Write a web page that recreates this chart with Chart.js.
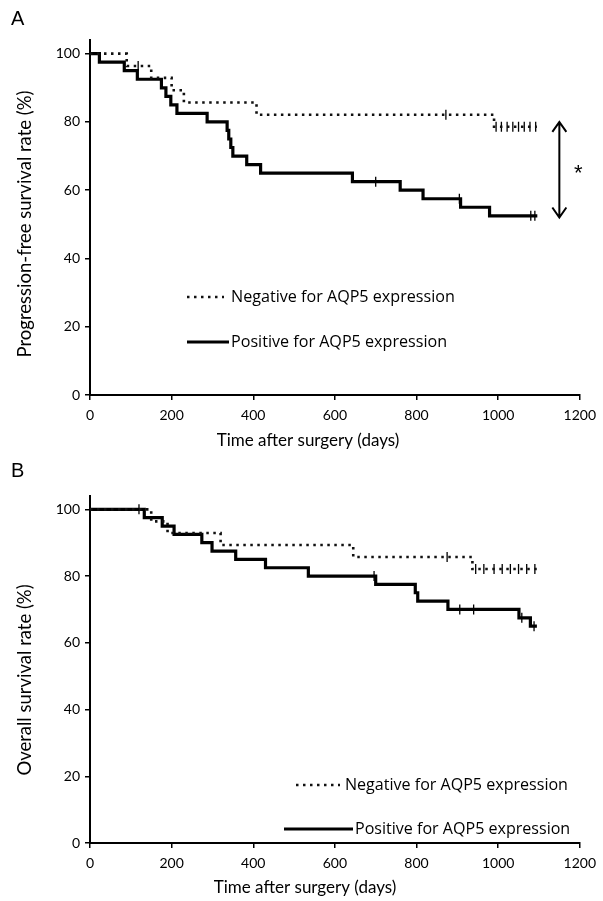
<!DOCTYPE html>
<html>
<head>
<meta charset="utf-8">
<script src="https://cdn.jsdelivr.net/npm/chart.js@4"></script>
<style>
  body { margin: 0; background: #fff; width: 603px; height: 901px; overflow: hidden; }
  .panel { position: absolute; left: 0; }
</style>
</head>
<body>
<div class="panel" style="top:0"><canvas id="chartA" width="603" height="450"></canvas></div>
<div class="panel" style="top:450px"><canvas id="chartB" width="603" height="451"></canvas></div>
<script>
// tick labels
const xTickValues = [0, 200, 400, 600, 800, 1000, 1200];
const yTickValues = [0, 20, 40, 60, 80, 100];
const xTitle = 'Time after surgery (days)';
const negLabel = 'Negative for AQP5 expression';
const posLabel = 'Positive for AQP5 expression';

// panel A - progression-free survival
const pfsNegDays = [0, 90, 150, 200, 230, 408, 990, 1095];
const pfsNegRate = [100, 96.4, 92.9, 89.3, 85.7, 82.1, 78.6, 78.6];
const pfsPosDays = [0, 23, 84, 116, 175, 186, 198, 213, 287, 336, 340, 345, 350, 384, 418, 643, 760, 816, 908, 979, 1096];
const pfsPosRate = [100, 97.5, 95, 92.5, 90, 87.5, 85, 82.5, 80, 77.5, 75, 72.5, 70, 67.5, 65, 62.5, 60, 57.5, 55, 52.5, 52.5];
const pfsNegCensDays = [118, 872, 995, 1008, 1022, 1036, 1050, 1064, 1078, 1092];
const pfsNegCensRate = [96.4, 82.1, 78.6, 78.6, 78.6, 78.6, 78.6, 78.6, 78.6, 78.6];
const pfsPosCensDays = [700, 905, 1080, 1090];
const pfsPosCensRate = [62.5, 57.5, 52.5, 52.5];

// panel B - overall survival
const osNegDays = [0, 150, 190, 320, 645, 937, 1095];
const osNegRate = [100, 96.4, 92.9, 89.3, 85.7, 82.1, 82.1];
const osPosDays = [0, 133, 177, 206, 274, 299, 357, 430, 535, 700, 797, 803, 877, 1051, 1079, 1095];
const osPosRate = [100, 97.5, 95, 92.5, 90, 87.5, 85, 82.5, 80, 77.5, 75, 72.5, 70, 67.5, 65, 65];
const osNegCensDays = [875, 945, 965, 990, 1010, 1030, 1050, 1070, 1090];
const osNegCensRate = [85.7, 82.1, 82.1, 82.1, 82.1, 82.1, 82.1, 82.1, 82.1];
const osPosCensDays = [120, 696, 906, 940, 1058, 1088];
const osPosCensRate = [100, 80, 70, 70, 67.5, 65];

function pts(xs, ys) {
  return xs.map((x, i) => ({ x: x, y: ys[i] }));
}

// draws panel letter, axis titles, in-plot legend and the significance arrow
const decor = {
  id: 'decor',
  afterDraw(chart, args, o) {
    const ctx = chart.ctx;
    const xs = chart.scales.x, ys = chart.scales.y;
    ctx.save();
    ctx.fillStyle = '#000';
    ctx.textBaseline = 'middle';

    ctx.font = '20px "Liberation Sans"';
    ctx.textAlign = 'left';
    ctx.fillText(o.letter, 11, o.letterY);

    ctx.font = '17px Lato';
    ctx.textAlign = 'center';
    ctx.fillText(xTitle, o.xTitleX, o.xTitleY);
    ctx.save();
    ctx.translate(o.yTitleX, o.yTitleY);
    ctx.rotate(-Math.PI / 2);
    ctx.font = '18.5px Lato';
    ctx.fillText(o.yTitle, 0, 0);
    ctx.restore();

    // one legend font size per panel, sized so the "Negative" label spans its width in the figure
    ctx.font = '14px "Open Sans"';
    const size = 14 * o.legendWidth / ctx.measureText(negLabel).width;
    o.legend.forEach(item => {
      const ds = chart.data.datasets[item.ds];
      ctx.strokeStyle = ds.borderColor;
      ctx.lineWidth = ds.borderWidth;
      ctx.setLineDash(ds.borderDash || []);
      ctx.beginPath();
      ctx.moveTo(item.x1, item.y);
      ctx.lineTo(item.x2, item.y);
      ctx.stroke();
      ctx.setLineDash([]);
      ctx.font = size.toFixed(2) + 'px "Open Sans"';
      ctx.textAlign = 'left';
      ctx.fillText(ds.label, item.tx, item.y);
    });

    if (o.arrow) {
      const ax = xs.getPixelForValue(o.arrow.day);
      const y1 = ys.getPixelForValue(o.arrow.from);
      const y2 = ys.getPixelForValue(o.arrow.to);
      ctx.strokeStyle = '#000';
      ctx.lineWidth = 2;
      ctx.beginPath();
      ctx.moveTo(ax, y1); ctx.lineTo(ax, y2);
      ctx.moveTo(ax - 7, y1 + 10); ctx.lineTo(ax, y1); ctx.lineTo(ax + 7, y1 + 10);
      ctx.moveTo(ax - 7, y2 - 10); ctx.lineTo(ax, y2); ctx.lineTo(ax + 7, y2 - 10);
      ctx.stroke();
      ctx.font = '22px "Liberation Sans"';
      ctx.textAlign = 'center';
      ctx.fillText('*', ax + 19, (y1 + y2) / 2 + 4);
    }
    ctx.restore();
  }
};

function makeChart(id, d) {
  const tickFont = { family: 'Lato', size: 14 };
  return new Chart(document.getElementById(id), {
    type: 'line',
    data: {
      datasets: [
        { label: negLabel, data: pts(d.negDays, d.negRate), stepped: true, borderColor: '#111',
          borderWidth: 2.6, borderDash: [2.5, 4.5], pointRadius: 0, fill: false },
        { label: posLabel, data: pts(d.posDays, d.posRate), stepped: true, borderColor: '#000',
          borderWidth: 3.2, pointRadius: 0, fill: false },
        { label: 'censored', data: pts(d.negCensDays, d.negCensRate), showLine: false, pointStyle: 'line',
          rotation: 90, pointRadius: 5, borderColor: '#000', borderWidth: 1.3 },
        { label: 'censored', data: pts(d.posCensDays, d.posCensRate), showLine: false, pointStyle: 'line',
          rotation: 90, pointRadius: 5, borderColor: '#000', borderWidth: 1.3 }
      ]
    },
    options: {
      responsive: false,
      animation: false,
      layout: { padding: { top: d.top, right: 19, left: 0, bottom: 0 } },
      plugins: { legend: { display: false }, tooltip: { enabled: false }, decor: d.decor },
      scales: {
        x: {
          type: 'linear', min: 0, max: 1200,
          afterBuildTicks(s) { s.ticks = xTickValues.map(v => ({ value: v })); },
          afterFit(s) { s.height = d.xHeight; },
          ticks: { color: '#000', font: tickFont, padding: 7, maxRotation: 0, callback: v => String(v) },
          grid: { drawOnChartArea: false, tickLength: 5, color: '#000', lineWidth: 1.5 },
          border: { color: '#000', width: 2 }
        },
        y: {
          min: 0, max: 104,
          afterBuildTicks(s) { s.ticks = yTickValues.map(v => ({ value: v })); },
          afterFit(s) { s.width = 90; },
          ticks: { color: '#000', font: tickFont, padding: 5, callback: v => String(v) },
          grid: { drawOnChartArea: false, tickLength: 5, color: '#000', lineWidth: 1.5 },
          border: { color: '#000', width: 2 }
        }
      }
    },
    plugins: [decor]
  });
}

makeChart('chartA', {
  negDays: pfsNegDays, negRate: pfsNegRate, posDays: pfsPosDays, posRate: pfsPosRate,
  negCensDays: pfsNegCensDays, negCensRate: pfsNegCensRate,
  posCensDays: pfsPosCensDays, posCensRate: pfsPosCensRate,
  top: 40, xHeight: 55,
  decor: {
    letter: 'A', letterY: 19,
    xTitleX: 308, xTitleY: 441,
    yTitle: 'Progression-free survival rate (%)', yTitleX: 25, yTitleY: 224,
    legendWidth: 224,
    legend: [
      { ds: 0, x1: 187, x2: 224, tx: 231, y: 297 },
      { ds: 1, x1: 187, x2: 229, tx: 231, y: 342 }
    ],
    arrow: { day: 1150, from: 80, to: 52 }
  }
});

makeChart('chartB', {
  negDays: osNegDays, negRate: osNegRate, posDays: osPosDays, posRate: osPosRate,
  negCensDays: osNegCensDays, negCensRate: osNegCensRate,
  posCensDays: osPosCensDays, posCensRate: osPosCensRate,
  top: 46, xHeight: 58,
  decor: {
    letter: 'B', letterY: 21,
    xTitleX: 305, xTitleY: 438,
    yTitle: 'Overall survival rate (%)', yTitleX: 25, yTitleY: 230,
    legendWidth: 223,
    legend: [
      { ds: 0, x1: 296, x2: 340, tx: 345, y: 335 },
      { ds: 1, x1: 284, x2: 353, tx: 355, y: 379 }
    ],
    arrow: null
  }
});
</script>
</body>
</html>
